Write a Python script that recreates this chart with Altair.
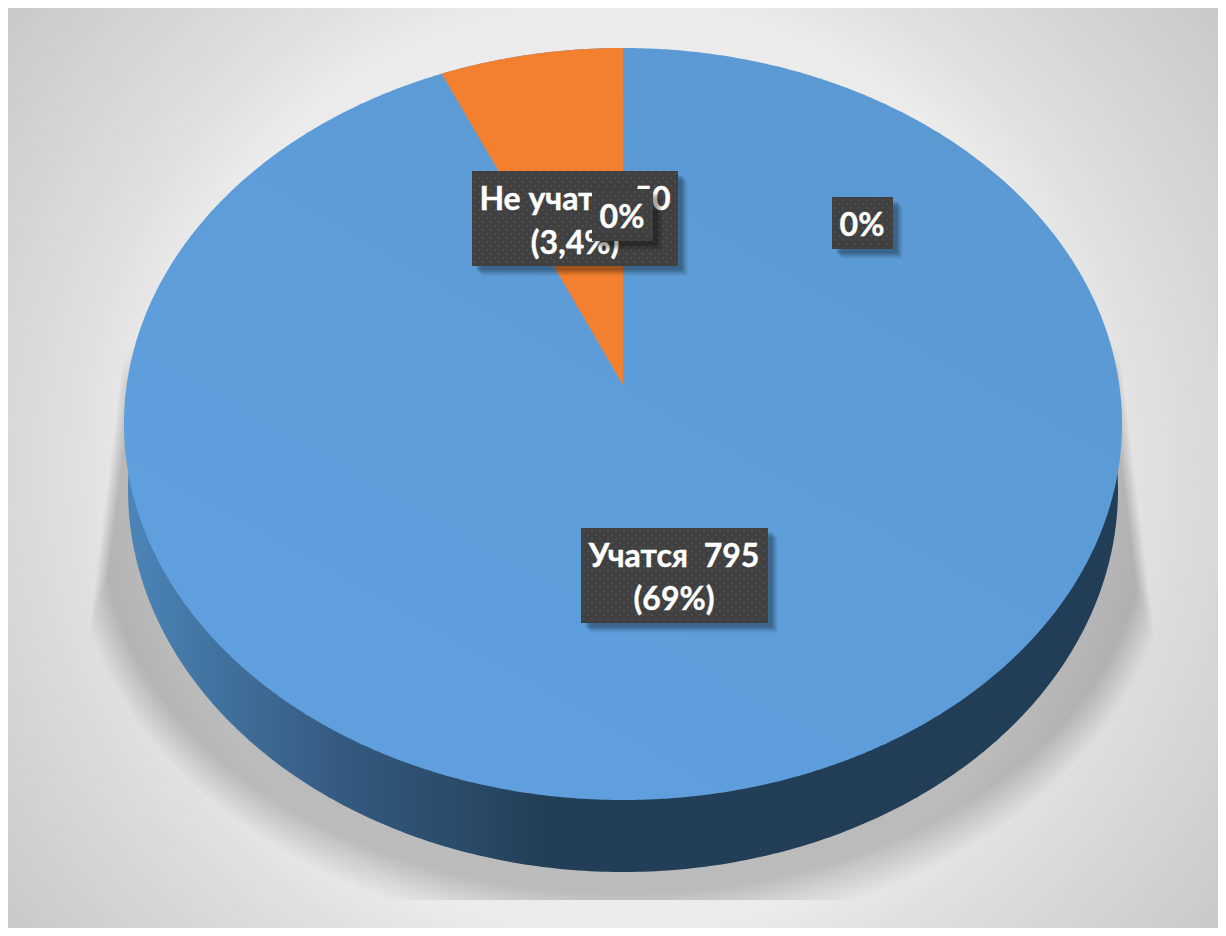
import numpy as np
import pandas as pd
import altair as alt

alt.data_transformers.disable_max_rows()

# --- data ---
categories = ["Учатся", "Не учатся"]
counts = [795, 50]
percent_labels = ["(69%)", "(3,4%)"]
zero_label = "0%"

# --- geometry of the drawing, in the reference picture's pixels ---
PAGE = 8
W, H = 1218, 928
CX, CY, RX, RY = 623, 424, 499, 376
APEX_Y = 385
WALL_CY, WALL_RX, WALL_RY = 490, 495, 382
SHADOW_CLIP = 900

SX = alt.Scale(domain=[PAGE, W], range=[0, W - PAGE], nice=False, zero=False)
SY = alt.Scale(domain=[PAGE, H], range=[0, H - PAGE], nice=False, zero=False)


def X(f="x"):
    return alt.X(f"{f}:Q", scale=SX, axis=None)


def Y(f="y"):
    return alt.Y(f"{f}:Q", scale=SY, axis=None)


def ellipse(cx, cy, rx, ry, n=260):
    t = np.linspace(np.pi, 0, n)
    x = cx + rx * np.cos(t)
    half = ry * np.sin(t)
    return pd.DataFrame({"x": x, "y": cy - half, "y2": cy + half})


def area(df, **kw):
    return alt.Chart(df).mark_area(**kw).encode(x=X(), y=Y(), y2=alt.Y2("y2:Q"))


def grad(stops, **kw):
    return alt.LinearGradient(
        gradient="linear",
        stops=[alt.GradientStop(color=c, offset=o) for o, c in stops],
        **kw,
    )


# background panel: a circular gradient, so its rectangle is a square round the picture's centre
bg = (
    alt.Chart(pd.DataFrame({"x": [0], "x2": [1226], "y": [-145], "y2": [1081]}))
    .mark_rect(
        fill=alt.RadialGradient(
            gradient="radial",
            stops=[
                alt.GradientStop(color="#f0f0f0", offset=0),
                alt.GradientStop(color="#ebebeb", offset=0.61),
                alt.GradientStop(color="#e0e0e0", offset=0.70),
                alt.GradientStop(color="#d9d9d9", offset=0.78),
                alt.GradientStop(color="#c8c8c8", offset=1),
            ],
            x1=0.5, y1=0.5, r1=0, x2=0.5, y2=0.5, r2=0.625,
        )
    )
    .encode(x=X(), x2=alt.X2("x2:Q"), y=Y(), y2=alt.Y2("y2:Q"))
)


# soft shadow below and beside the disc, as stacked translucent shapes
def cone_top(x, inset):
    left = 640 - (x - 88 - inset) * (340 / 42)
    right = 640 - (1155 - inset - x) * (305 / 37)
    return np.maximum(left, right)


frames = []
N_SH = 16
for k in range(N_SH):
    f = k / (N_SH - 1)
    d = ellipse(CX, 530, 520 + 30 * f, 365 + 43 * f, 300)
    d["y"] = np.maximum(d["y"], cone_top(d["x"], 12 * (1 - f)))
    d["y2"] = np.minimum(d["y2"], SHADOW_CLIP)
    d = d[d["y2"] > d["y"]].copy()
    d["k"] = k
    frames.append(d)
shadow_df = pd.concat(frames)
shadow = (
    alt.Chart(shadow_df)
    .mark_area(fill="#000000", fillOpacity=0.012)
    .encode(x=X(), y=Y(), y2=alt.Y2("y2:Q"), detail="k:N")
)

# side wall
wall = area(
    ellipse(CX, WALL_CY, WALL_RX, WALL_RY),
    fill=grad(
        [
            (0, "#4c85b8"),
            (0.1, "#40709c"),
            (0.22, "#34597f"),
            (0.32, "#2b4d6c"),
            (0.42, "#233f57"),
            (1, "#223e56"),
        ],
        x1=0, y1=0, x2=1, y2=0,
    ),
)

# top of the disc
disc = area(
    ellipse(CX, CY, RX, RY, 500),
    fill=grad(
        [(0, "#5a99d2"), (1, "#5f9fde")],
        x1=0.9, y1=0.1, x2=0.3, y2=0.9,
    ),
)

# the wedge of the smaller slice, its angle coming from the counts
theta = 2 * np.pi * counts[1] / sum(counts)
edge_x = CX - RX * np.sin(theta)
edge_y = CY - RY * np.cos(theta)
wx = np.linspace(edge_x, CX, 80)
wedge_df = pd.DataFrame(
    {
        "x": wx,
        "y": CY - RY * np.sqrt(1 - ((wx - CX) / RX) ** 2),
        "y2": edge_y + (wx - edge_x) / (CX - edge_x) * (APEX_Y - edge_y),
    }
)
wedge = area(wedge_df, fill="#F2802F")


# labels: dark dotted boxes with a soft offset shadow
def box(x0, x1, y0, y1, lines):
    out = []
    for off, op in [(10, 0.03), (9, 0.04), (8, 0.05), (7, 0.06), (6, 0.07), (5, 0.07), (4, 0.07)]:
        out.append(
            alt.Chart(pd.DataFrame({"x": [x0 + off], "x2": [x1 + off], "y": [y0 + off], "y2": [y1 + off]}))
            .mark_rect(fill="#000000", fillOpacity=op)
            .encode(x=X(), x2=alt.X2("x2:Q"), y=Y(), y2=alt.Y2("y2:Q"))
        )
    out.append(
        alt.Chart(pd.DataFrame({"x": [x0], "x2": [x1], "y": [y0], "y2": [y1]}))
        .mark_rect(fill="#404040")
        .encode(x=X(), x2=alt.X2("x2:Q"), y=Y(), y2=alt.Y2("y2:Q"))
    )
    dots = []
    for r, yy in enumerate(np.arange(y0 + 3, y1 - 1, 4)):
        for xx in np.arange(x0 + 3 + (4 if r % 2 else 0), x1 - 1, 8):
            dots.append({"x": float(xx), "y": float(yy)})
    out.append(
        alt.Chart(pd.DataFrame(dots))
        .mark_square(size=3, fill="#565656", opacity=1)
        .encode(x=X(), y=Y())
    )
    out.append(
        alt.Chart(pd.DataFrame(lines))
        .mark_text(font="Lato", fontWeight="bold", fontSize=32, fill="#ffffff", stroke="#ffffff",
                   strokeWidth=0.4, align="center", baseline="middle")
        .encode(x=X(), y=Y(), text="t:N")
    )
    return out


labels = []
labels += box(472, 678, 171, 266, [
    {"x": 575, "y": 200, "t": f"{categories[1]} {counts[1]}"},
    {"x": 575, "y": 244, "t": percent_labels[1]},
])
labels += box(592, 653, 189, 241, [{"x": 622, "y": 218, "t": zero_label}])
labels += box(832, 893, 197, 249, [{"x": 862, "y": 226, "t": zero_label}])
labels += box(581, 768, 528, 623, [
    {"x": 674, "y": 557, "t": f"{categories[0]}\u00a0 {counts[0]}"},
    {"x": 674, "y": 600, "t": percent_labels[0]},
])

chart = (
    alt.layer(bg, shadow, wall, disc, wedge, *labels)
    .properties(width=W - PAGE, height=H - PAGE, padding=0, background="#dddddd",
                autosize=alt.AutoSizeParams(type="none"))
    .configure_view(strokeWidth=0)
)

chart.save("out.html", embed_options={"renderer": "svg", "actions": False})
